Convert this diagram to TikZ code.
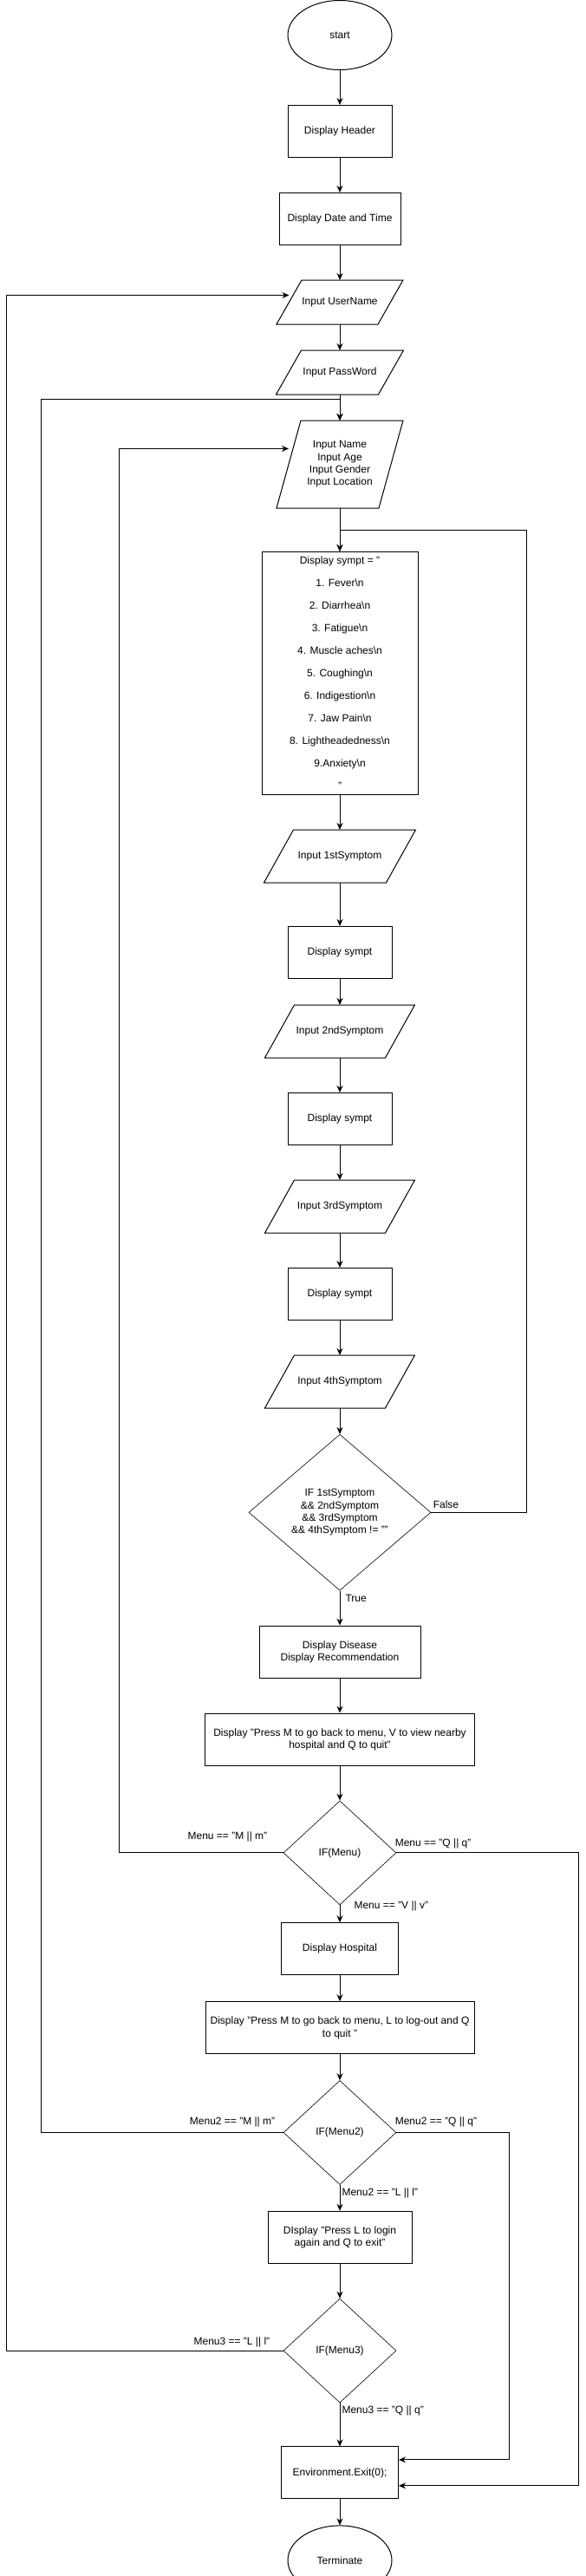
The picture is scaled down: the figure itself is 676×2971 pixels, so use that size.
\documentclass[tikz,border=0pt]{standalone}
\usepackage{fontspec}
\setmainfont{Liberation Sans}
\usetikzlibrary{positioning,shapes.geometric,arrows.meta}

\begin{document}
\begin{tikzpicture}[x=1pt, y=-1pt, line width=1pt, >={Stealth[length=8pt,width=7pt]},
    font=\fontsize{12}{14.4}\selectfont,
    term/.style = {draw, ellipse, minimum width=120pt, minimum height=80pt, inner sep=0pt},
    proc/.style = {draw, rectangle, minimum width=#1, minimum height=60pt, inner sep=2pt, align=center},
    proc/.default = 120pt,
    io/.style = {rectangle, minimum width=#1, minimum height=60pt, inner sep=0pt, align=center},
    io/.default = 140pt,
    cond/.style = {draw, diamond, line width=0.6pt, minimum width=130pt, minimum height=120pt,
        inner sep=0pt, align=center},
    lbl/.style = {inner sep=0pt}]
    \useasboundingbox (0,0) rectangle (676,2971);

    \node[term] (1) at (392,40.5) {start};
    \node[proc] (2) [below=40pt of 1] {Display Header};
    \node[proc=140pt] (3) [below=40pt of 2] {Display Date and Time};
    \node[io=116pt, minimum height=50pt] (4) [below=40pt of 3] {Input UserName};
    \node[io=117pt, minimum height=50pt] (5) [below=30pt of 4] {Input PassWord};
    \node[io=117pt, minimum height=100pt] (6) [below=30pt of 5]
        {Input Name\\Input Age\\Input Gender\\Input Location};
    \node[proc=180pt, minimum height=280pt, font=\fontsize{12}{26}\selectfont] (7) [below=50pt of 6]
        {Display sympt = "\\1. Fever\textbackslash n\\2. Diarrhea\textbackslash n\\3. Fatigue\textbackslash n\\
         4. Muscle aches\textbackslash n\\5. Coughing\textbackslash n\\6. Indigestion\textbackslash n\\
         7. Jaw Pain\textbackslash n\\8. Lightheadedness\textbackslash n\\9.Anxiety\textbackslash n\\"};
    \node[io] (8) [below=40pt of 7] {Input 1stSymptom};
    \node[proc] (9) [below=50pt of 8] {Display sympt};
    \node[io=138pt] (10) [below=30pt of 9] {Input 2ndSymptom};
    \node[proc] (11) [below=40pt of 10] {Display sympt};
    \node[io=138pt] (12) [below=40pt of 11] {Input 3rdSymptom};
    \node[proc] (13) [below=40pt of 12] {Display sympt};
    \node[io=138pt] (14) [below=40pt of 13] {Input 4thSymptom};
    \node[cond, minimum width=210pt, minimum height=180pt] (15) [below=30pt of 14]
        {IF 1stSymptom\\\&\& 2ndSymptom\\\&\& 3rdSymptom\\\&\& 4thSymptom != ""};
    \node[proc=186pt] (16) [below=40pt of 15] {Display Disease\\Display Recommendation};
    \node[proc=311pt] (17) [below=40pt of 16] {Display "Press M to go back to menu, V to view nearby\\hospital and Q to quit"};
    \node[cond] (18) [below=40pt of 17] {IF(Menu)};
    \node[proc=135pt] (19) [below=20pt of 18] {Display Hospital};
    \node[proc=310pt] (20) [below=30pt of 19] {Display "Press M to go back to menu, L to log-out and Q\\to quit "};
    \node[cond] (21) [below=30pt of 20] {IF(Menu2)};
    \node[proc=166pt] (22) [below=30pt of 21] {DIsplay "Press L to login\\again and Q to exit"};
    \node[cond] (23) [below=40pt of 22] {IF(Menu3)};
    \node[proc=135pt] (24) [below=50pt of 23] {Environment.Exit(0);};
    \node[term] (25) [below=30pt of 24] {Terminate};

    % slanted outline of the input nodes
    \foreach \n/\s in {4/29,5/29,6/28,8/34,10/34,12/34,14/34}
        \draw ([xshift=\s*0.5]\n.north west) -- ([xshift=\s*0.5]\n.north east)
            -- ([xshift=-\s*0.5]\n.south east) -- ([xshift=-\s*0.5]\n.south west) -- cycle;

    % lanes of the loops
    \coordinate (w3) at (7,0);
    \coordinate (w2) at (47,460);
    \coordinate (w1) at (137.5,0);
    \coordinate (e0) at (607,611);
    \coordinate (e1) at (667,0);
    \coordinate (e2) at (587,0);

    \draw[->] (1)--(2);
    \draw[->] (2)--(3);
    \draw[->] (3)--(4);
    \draw[->] (4)--(5);
    \draw[->] (5)--(6);
    \draw[->] (6)--(7);
    \draw[->] (7)--(8);
    \draw[->] (8)--(9);
    \draw[->] (9)--(10);
    \draw[->] (10)--(11);
    \draw[->] (11)--(12);
    \draw[->] (12)--(13);
    \draw[->] (13)--(14);
    \draw[->] (14)--(15);
    \draw[->] (15.south) node[lbl, anchor=west, xshift=6pt, yshift=-9pt] {True} -- (16);
    \draw[->] (15.east) node[lbl, anchor=west, xshift=2pt, yshift=9pt] {False} -| (e0) -| (7.north);
    \draw[->] (16)--(17);
    \draw[->] (17)--(18);
    \draw[->] (18.south) node[lbl, anchor=west, xshift=16pt, yshift=-1pt] {Menu == "V || v"} -- (19);
    \draw[->] (18.west) node[lbl, anchor=east, xshift=-18pt, yshift=19pt] {Menu == "M || m"}
        -- (18.west -| w1) |- ([yshift=18pt]6.west);
    \draw[->] (18.east) node[lbl, anchor=west, xshift=-2pt, yshift=11pt] {Menu == "Q || q"}
        -- (18.east -| e1) |- ([yshift=-15pt]24.east);
    \draw[->] (19)--(20);
    \draw[->] (20)--(21);
    \draw[->] (21.south) node[lbl, anchor=west, xshift=2pt, yshift=-10pt] {Menu2 == "L || l"} -- (22);
    \draw[->] (21.west) node[lbl, anchor=east, xshift=-9pt, yshift=12pt] {Menu2 == "M || m"}
        -- (21.west -| w2) -- (w2) -| (6.north);
    \draw[->] (21.east) node[lbl, anchor=west, xshift=-2pt, yshift=12pt] {Menu2 == "Q || q"}
        -- (21.east -| e2) |- ([yshift=15pt]24.east);
    \draw[->] (22)--(23);
    \draw[->] (23.south) node[lbl, anchor=west, xshift=2pt, yshift=-9pt] {Menu3 == "Q || q"} -- (24);
    \draw[->] (23.west) node[lbl, anchor=east, xshift=-15pt, yshift=10pt] {Menu3 == "L || l"}
        -- (23.west -| w3) |- ([yshift=8pt]4.west);
    \draw[->] (24)--(25);
\end{tikzpicture}
\end{document}
